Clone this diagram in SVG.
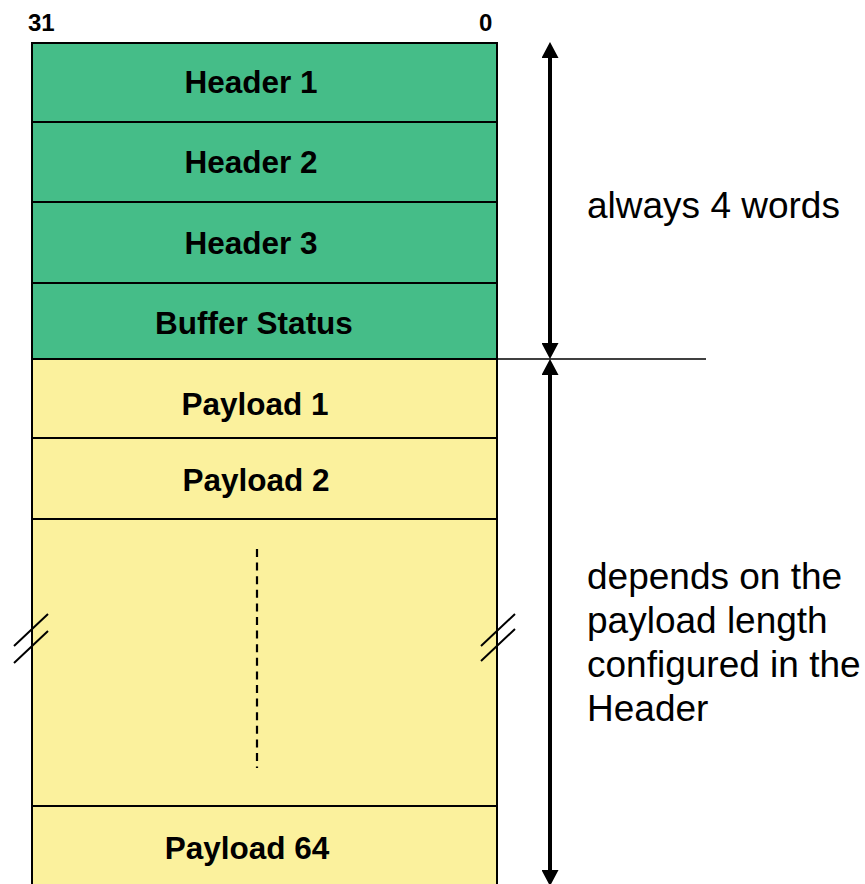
<svg xmlns="http://www.w3.org/2000/svg" width="865" height="884" viewBox="0 0 865 884">
  <style>
    .hdr { fill: #45BD88; }
    .pay { fill: #FBF19D; }
    .sep { stroke: #000; stroke-width: 2; fill: none; }
    .lbl { font-family: "Liberation Sans", Arial, sans-serif; font-weight: bold; font-size: 31.5px; fill: #000; text-anchor: middle; }
    .bit { font-family: "Liberation Sans", Arial, sans-serif; font-weight: bold; font-size: 24px; fill: #000; }
    .note { font-family: "Liberation Sans", Arial, sans-serif; font-size: 37px; fill: #000; }
    .arrow { stroke: #000; stroke-width: 4; fill: none; marker-start: url(#head); marker-end: url(#head); }
  </style>
  <defs>
    <marker id="head" viewBox="0 0 16 17" refX="0" refY="8.5" markerWidth="16" markerHeight="17" markerUnits="userSpaceOnUse" orient="auto-start-reverse">
      <path d="M0,0 L16,8.5 L0,17 Z" fill="#000"/>
    </marker>
  </defs>
  <rect width="865" height="884" fill="#fff"/>

  <text class="bit" x="28" y="31">31</text>
  <text class="bit" x="479" y="31">0</text>

  <g id="header1"><rect class="hdr" x="32" y="43" width="465" height="79"/><text class="lbl" x="251" y="93">Header 1</text></g>
  <g id="header2"><rect class="hdr" x="32" y="122" width="465" height="80"/><text class="lbl" x="251" y="173">Header 2</text></g>
  <g id="header3"><rect class="hdr" x="32" y="202" width="465" height="81"/><text class="lbl" x="251" y="254">Header 3</text></g>
  <g id="bufferStatus"><rect class="hdr" x="32" y="283" width="465" height="76"/><text class="lbl" x="254" y="334">Buffer Status</text></g>
  <g id="payload1"><rect class="pay" x="32" y="359" width="465" height="79"/><text class="lbl" x="255" y="415">Payload 1</text></g>
  <g id="payload2"><rect class="pay" x="32" y="438" width="465" height="81"/><text class="lbl" x="256" y="491">Payload 2</text></g>
  <g id="payloadGap">
    <rect class="pay" x="32" y="519" width="465" height="287"/>
    <line x1="257" y1="549" x2="257" y2="768" stroke="#000" stroke-width="2.2" stroke-dasharray="8 5.6"/>
  </g>
  <g id="payload64"><rect class="pay" x="32" y="806" width="465" height="90"/><text class="lbl" x="247" y="859">Payload 64</text></g>

  <g id="frame">
    <path class="sep" d="M32,890 V43 H497 V890"/>
    <path class="sep" d="M32,122 H497 M32,202 H497 M32,283 H497 M32,359 H497 M32,438 H497 M32,519 H497 M32,806 H497"/>
    <path class="sep" d="M14,646 L48,614 M14,663 L48,631 M481,646 L515,614 M481,661 L515,629"/>
  </g>

  <g id="connectors">
    <line x1="497" y1="359" x2="706" y2="359" stroke="#000" stroke-width="1.5"/>
    <line class="arrow" x1="550" y1="58" x2="550" y2="343"/>
    <line class="arrow" x1="550" y1="375" x2="550" y2="870"/>
  </g>

  <g id="notes">
    <text class="note" x="587" y="218">always 4 words</text>
    <text class="note" x="587" y="589">depends on the</text>
    <text class="note" x="587" y="633">payload length</text>
    <text class="note" x="587" y="677">configured in the</text>
    <text class="note" x="587" y="721">Header</text>
  </g>
</svg>
